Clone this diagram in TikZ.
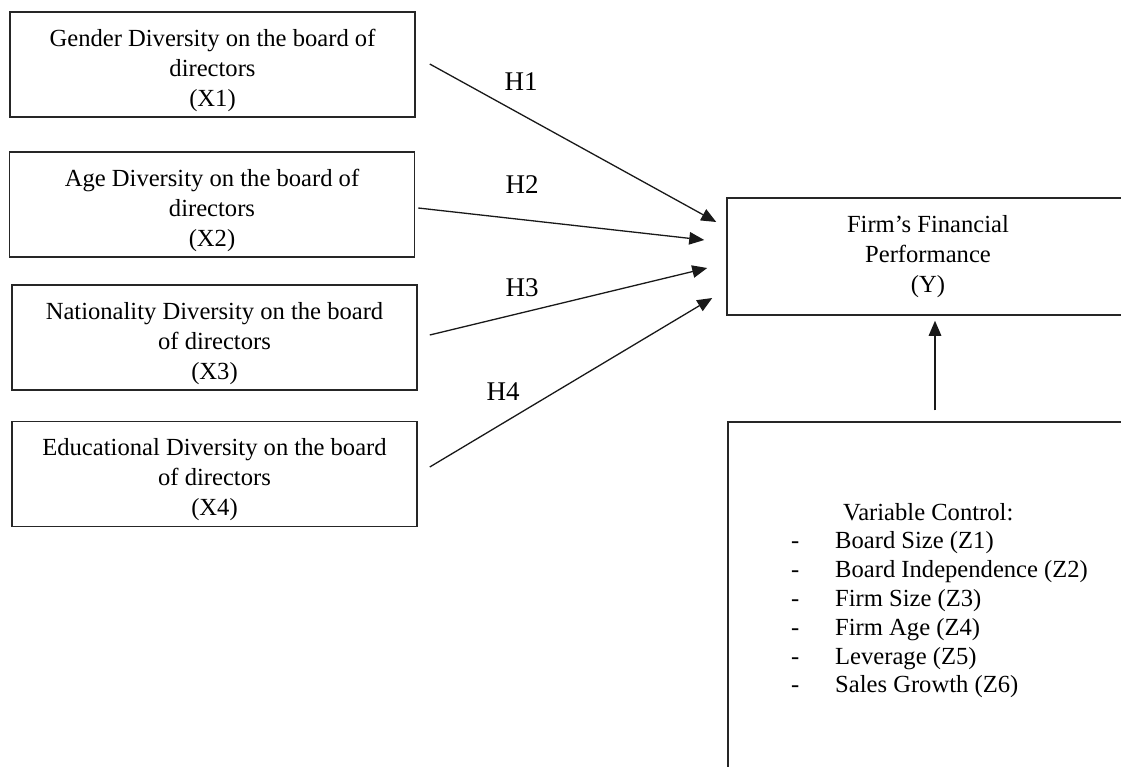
\documentclass[tikz,border=0pt]{standalone}
\usepackage{fontspec}
\setmainfont{Liberation Serif}
\usetikzlibrary{arrows.meta,calc}
\newcommand{\topstrut}{\rule{0pt}{29pt}}
\begin{document}
\begin{tikzpicture}[x=1pt,y=-1pt,
  txt/.style={font=\fontsize{24.6}{30}\selectfont},
  box/.style={draw=black!85, line width=1.5pt, minimum width=405pt, minimum height=105pt,
    align=center, inner sep=0pt, txt},
  lbl/.style={inner sep=0pt, font=\fontsize{27}{30}\selectfont},
  arr/.style={draw=black!90, line width=1.3pt, -{Triangle[length=15pt,width=12.5pt]}}]
\clip (0,0) rectangle (1121,766);
\useasboundingbox (0,0) rectangle (1121,766);

\node[box] (x1) at (212.5,64.5) {\topstrut Gender Diversity on the board of\\directors\\(X1)};
\node[box] (x2) at (212,204.5) {\topstrut Age Diversity on the board of\\directors\\(X2)};
\node[box] (x3) at (214.5,337.5) {\topstrut Nationality Diversity on the board\\of directors\\(X3)};
\node[box] (x4) at (214.5,474) {\topstrut Educational Diversity on the board\\of directors\\(X4)};

\node[box, minimum width=402pt, minimum height=117pt] (y) at (928,256.5) {Firm’s Financial\\Performance\\(Y)};

\node[draw=black!85, line width=1.5pt, minimum width=402pt, minimum height=400pt, inner sep=0pt] (ctrl) at (929,622) {};
\node[anchor=base west, inner sep=0pt, font=\fontsize{24.6}{28.8}\selectfont] (ctrltext) at (791,520)
 {\begin{tabular}[t]{@{}l@{}}
  \hspace*{52pt}Variable Control:\\
  \makebox[44pt][l]{-}Board Size (Z1)\\
  \makebox[44pt][l]{-}Board Independence (Z2)\\
  \makebox[44pt][l]{-}Firm Size (Z3)\\
  \makebox[44pt][l]{-}Firm Age (Z4)\\
  \makebox[44pt][l]{-}Leverage (Z5)\\
  \makebox[44pt][l]{-}Sales Growth (Z6)
 \end{tabular}};

\draw[arr] ($(x1.east)+(14,-0.5)$) -- ($(y.west)+(-10,-34.5)$);
\draw[arr] ($(x2.east)+(3,3.5)$) -- ($(y.west)+(-22,-16.5)$);
\draw[arr] ($(x3.east)+(12,-2.5)$) -- ($(y.west)+(-19,11.5)$);
\draw[arr] ($(x4.east)+(12,-7)$) -- ($(y.west)+(-14,41.5)$);
\draw[arr] ($(ctrl.north)+(6,-11)$) -- ($(y.south)+(7,5)$);

\node[lbl] (h1) at (521,82) {H1};
\node[lbl] (h2) at (522,185) {H2};
\node[lbl] (h3) at (522,288) {H3};
\node[lbl] (h4) at (503,392) {H4};
\end{tikzpicture}
\end{document}
